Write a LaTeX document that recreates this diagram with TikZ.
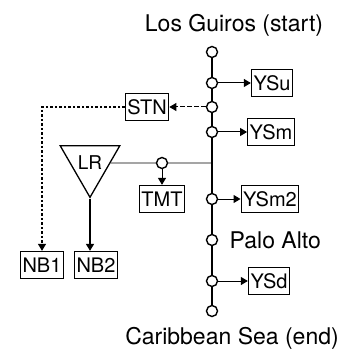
\documentclass[tikz,border=0pt]{standalone}
\usepackage{fontspec}
\setmainfont{TeX Gyre Heros}
\usetikzlibrary{arrows.meta, positioning, shapes.geometric}

\begin{document}
\begin{tikzpicture}[x=1pt, y=-1pt,
  stop/.style={draw, circle, line width=1.4pt, fill=white, minimum size=11pt, inner sep=0pt},
  yard/.style={draw, line width=1.3pt, font=\fontsize{20}{20}\selectfont, inner xsep=2pt,
               inner ysep=1pt, minimum height=27pt},
  place/.style={font=\fontsize{23}{23}\selectfont},
  feed/.style={-{Triangle[length=7pt,width=8pt]}, line width=1pt},
]
\useasboundingbox (0,0) rectangle (350,358);

% Ends of the line
\node[place] (start) at (234,25) {Los Guiros (start)};
\node[place] (end) at (232,338) {Caribbean Sea (end)};

% Stops along the main line
\node[stop] (s0) at (212,52) {};
\node[stop] (s1) at (212,83) {};
\node[stop] (s2) at (212,107) {};
\node[stop] (s3) at (212,132) {};
\coordinate (j) at (212,163);
\node[stop] (s4) at (212,199) {};
\node[stop] (s5) at (212,240) {};
\node[stop] (s6) at (212,281) {};
\node[stop] (s7) at (212,311) {};
\draw[line width=1.6pt] (s0) -- (s1) -- (s2) -- (s3) -- (s4) -- (s5) -- (s6) -- (s7);
\node[place, right=8pt of s5] (palo) {Palo Alto};

% Yards
\node[yard] (ysu) at (272,83) {YSu};
\node[yard] (ysm) at (271,132) {YSm};
\node[yard] (ysm2) at (270,199) {YSm2};
\node[yard] (ysd) at (269,281) {YSd};
\draw[feed] (s1) -- (ysu);
\draw[feed] (s3) -- (ysm);
\draw[feed] (s4) -- (ysm2);
\draw[feed] (s6) -- (ysd);

% Station branch
\node[yard] (stn) at (147,107) {STN};
\node[yard] (nb1) at (42,265) {NB1};
\node[yard] (nb2) at (96,265) {NB2};
\draw[feed, dash pattern=on 5pt off 2pt] (s2) -- (stn);
\draw[feed, line width=1.2pt, dash pattern=on 2.5pt off 2pt] (stn) -| (nb1);

% LR branch
\node[draw, line width=1.3pt, regular polygon, regular polygon sides=3, shape border rotate=180,
      minimum size=52pt, inner sep=0pt, font=\fontsize{19}{19}\selectfont] (lr) at (90,163) {LR};
\node[stop] (lrc) at (162,163) {};
\node[yard] (tmt) at (162,199) {TMT};
\draw[line width=0.8pt] (lr) -- (lrc) -- (j);
\draw[feed] (lrc) -- (tmt);
\draw[feed, line width=1.5pt] (lr.corner 1) -- (lr.corner 1 |- nb2.north);
\end{tikzpicture}
\end{document}
